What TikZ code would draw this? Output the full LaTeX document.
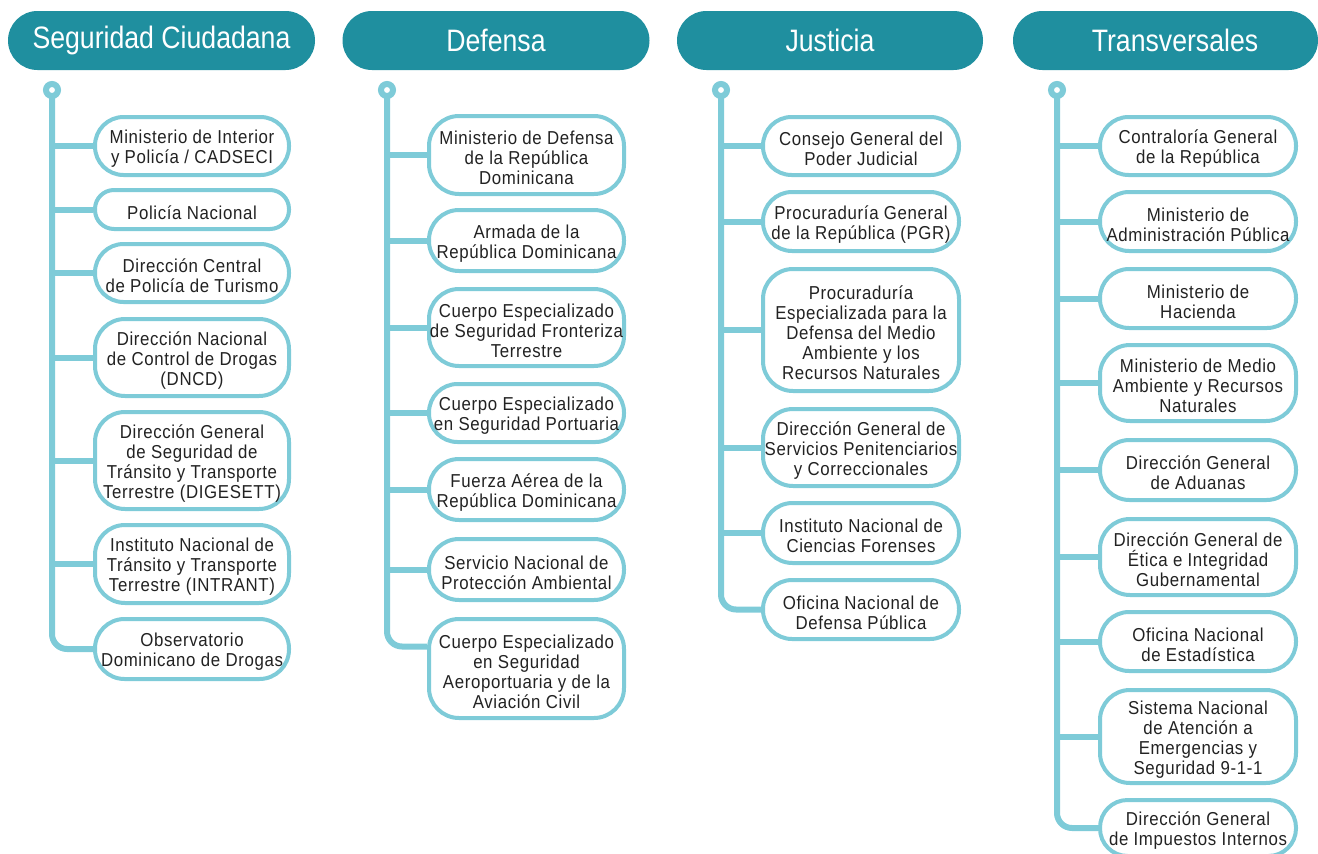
\documentclass[tikz,border=0pt]{standalone}
\usepackage{fontspec}
\setmainfont{Liberation Sans}
\newfontfamily\boxfam[FakeStretch=0.9,LetterSpace=3.4]{Liberation Sans}
\newfontfamily\hdrfam[FakeStretch=0.86]{Liberation Sans}
\definecolor{teal1}{HTML}{1F8F9F}
\definecolor{lblue}{HTML}{7ECBD8}
\definecolor{dtext}{HTML}{222222}
\pgfdeclarelayer{bg}
\pgfsetlayers{bg,main}
\tikzset{
  hdr/.style={fill=teal1, rounded corners=29.5pt, minimum width=307pt, minimum height=59pt, inner sep=0pt},
  hdrtext/.style={text=white, inner sep=0pt, font=\hdrfam\fontsize{31}{34}\selectfont},
  orgbox/.style={draw=lblue, line width=4pt, fill=white, inner sep=0pt},
  orgtext/.style={align=center, inner sep=0pt, text=dtext, font=\boxfam\fontsize{18.7}{20}\selectfont},
  spine/.style={draw=lblue, line width=6pt},
  spinedot/.style={circle, draw=lblue, line width=6pt, fill=white, minimum size=12pt, inner sep=0pt}
}
\newcommand\mybox[6]{%
  \pgfmathsetmacro\bw{#4-#2-4}%
  \pgfmathsetmacro\bh{#5-#3-4}%
  \pgfmathsetmacro\br{min(30,\bh/2-0.5)}%
  \node[orgbox, minimum width=\bw pt, minimum height=\bh pt, rounded corners=\br pt] (#1) at ({(#2+#4)/2},{(#3+#5)/2}) {};
  \node[orgtext] (#1t) at ([yshift=-3pt]#1.center) {#6};}
\newcommand\myhdr[5]{%
  \node[hdr, minimum width=#3pt] (#1) at (#2,40.5) {};
  \node[hdrtext] (#1t) at ([yshift=0.5pt,xshift=#4pt]#1.center) {#5};}
\begin{document}
\begin{tikzpicture}[x=1pt,y=-1pt]
\useasboundingbox (0,0) rectangle (1318,854);
% headers
\myhdr{h1}{161.5}{307}{0}{Seguridad Ciudadana}
\myhdr{h2}{496}{307}{0}{Defensa}
\myhdr{h3}{830}{306}{0}{Justicia}
\myhdr{h4}{1165.5}{305}{9.5}{Transversales}
% spine tops
\coordinate (d1) at (52,90);
\coordinate (d2) at (387,90);
\coordinate (d3) at (721,90);
\coordinate (d4) at (1057,90);
% column 1
\mybox{b11}{93}{115}{291}{177}{Ministerio de Interior\\y Policía / CADSECI}
\mybox{b12}{93}{188}{291}{231}{Policía Nacional}
\mybox{b13}{93}{242}{291}{304}{Dirección Central\\de Policía de Turismo}
\mybox{b14}{93}{317}{291}{398}{Dirección Nacional\\de Control de Drogas\\(DNCD)}
\mybox{b15}{93}{410}{291}{511}{Dirección General\\de Seguridad de\\Tránsito y Transporte\\Terrestre (DIGESETT)}
\mybox{b16}{93}{523}{291}{605}{Instituto Nacional de\\Tránsito y Transporte\\Terrestre (INTRANT)}
\mybox{b17}{93}{617}{291}{681}{Observatorio\\Dominicano de Drogas}
% column 2
\mybox{b21}{427}{114}{626}{196}{Ministerio de Defensa\\de la República\\Dominicana}
\mybox{b22}{427}{208}{626}{273}{Armada de la\\República Dominicana}
\mybox{b23}{427}{287}{626}{368}{Cuerpo Especializado\\de Seguridad Fronteriza\\Terrestre}
\mybox{b24}{427}{382}{626}{444}{Cuerpo Especializado\\en Seguridad Portuaria}
\mybox{b25}{427}{457}{626}{522}{Fuerza Aérea de la\\República Dominicana}
\mybox{b26}{427}{537}{626}{602}{Servicio Nacional de\\Protección Ambiental}
\mybox{b27}{427}{617}{626}{720}{Cuerpo Especializado\\en Seguridad\\Aeroportuaria y de la\\Aviación Civil}
% column 3
\mybox{b31}{761}{115}{961}{177}{Consejo General del\\Poder Judicial}
\mybox{b32}{761}{190}{961}{253}{Procuraduría General\\de la República (PGR)}
\mybox{b33}{761}{267}{961}{393}{Procuraduría\\Especializada para la\\Defensa del Medio\\Ambiente y los\\Recursos Naturales}
\mybox{b34}{761}{407}{961}{488}{Dirección General de\\Servicios Penitenciarios\\y Correccionales}
\mybox{b35}{761}{501}{961}{565}{Instituto Nacional de\\Ciencias Forenses}
\mybox{b36}{761}{578}{961}{641}{Oficina Nacional de\\Defensa Pública}
% column 4
\mybox{b41}{1098}{115}{1298}{177}{Contraloría General\\de la República}
\mybox{b42}{1098}{190}{1298}{253}{Ministerio de\\Administración Pública}
\mybox{b43}{1098}{267}{1298}{330}{Ministerio de\\Hacienda}
\mybox{b44}{1098}{343}{1298}{423}{Ministerio de Medio\\Ambiente y Recursos\\Naturales}
\mybox{b45}{1098}{438}{1298}{502}{Dirección General\\de Aduanas}
\mybox{b46}{1098}{517}{1298}{597}{Dirección General de\\Ética e Integridad\\Gubernamental}
\mybox{b47}{1098}{610}{1298}{673}{Oficina Nacional\\de Estadística}
\mybox{b48}{1098}{688}{1298}{785}{Sistema Nacional\\de Atención a\\Emergencias y\\Seguridad 9-1-1}
\mybox{b49}{1098}{798}{1298}{858}{Dirección General\\de Impuestos Internos}
\coordinate (e27) at ([yshift=22pt]b27.west);
\begin{pgfonlayer}{bg}
  \draw[spine, rounded corners=15pt] (d1) |- (b17.west);
  \foreach \b in {b11,b12,b13,b14,b15,b16} \draw[spine] (d1 |- \b.west) -- (\b.west);
  \draw[spine, rounded corners=15pt] (d2) |- (e27);
  \foreach \b in {b21,b22,b23,b24,b25,b26} \draw[spine] (d2 |- \b.west) -- (\b.west);
  \draw[spine, rounded corners=15pt] (d3) |- (b36.west);
  \foreach \b in {b31,b32,b33,b34,b35} \draw[spine] (d3 |- \b.west) -- (\b.west);
  \draw[spine, rounded corners=15pt] (d4) |- (b49.west);
  \foreach \b in {b41,b42,b43,b44,b45,b46,b47,b48} \draw[spine] (d4 |- \b.west) -- (\b.west);
\end{pgfonlayer}
\node[spinedot] (p1) at (d1) {};
\node[spinedot] (p2) at (d2) {};
\node[spinedot] (p3) at (d3) {};
\node[spinedot] (p4) at (d4) {};
\end{tikzpicture}
\end{document}
